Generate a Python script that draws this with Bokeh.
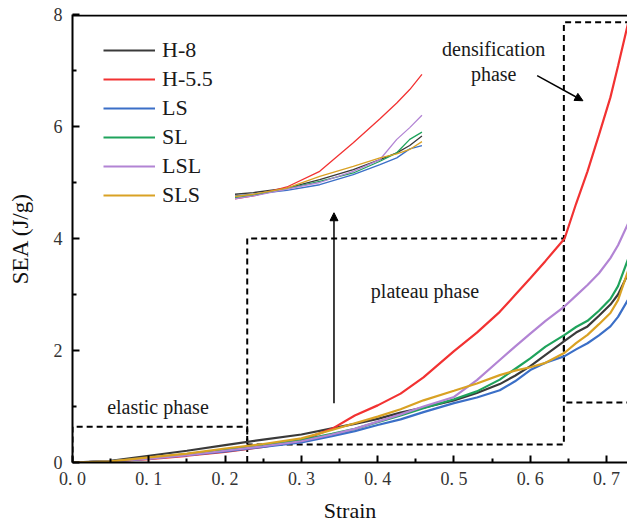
from bokeh.plotting import figure
from bokeh.models import (Range1d, FixedTicker, CustomJSTickFormatter, Legend, LegendItem,
                          Span, Arrow, NormalHead)
from bokeh.core.properties import value
from bokeh.embed import file_html
from bokeh.resources import INLINE

# ---------------- data ----------------
strain = [0, 0.05, 0.1, 0.15, 0.2, 0.25, 0.3, 0.34, 0.37, 0.4, 0.43, 0.46, 0.5, 0.53,
          0.56, 0.58, 0.6, 0.62, 0.645, 0.66, 0.675, 0.69, 0.705, 0.715, 0.73]
sea_h8 = [0, 0.03, 0.12, 0.21, 0.31, 0.41, 0.50, 0.61, 0.69, 0.78, 0.89, 0.98, 1.11, 1.24,
          1.40, 1.55, 1.72, 1.92, 2.17, 2.32, 2.43, 2.62, 2.82, 3.0, 3.42]
sea_h55 = [0, 0.02, 0.06, 0.12, 0.19, 0.28, 0.40, 0.60, 0.84, 1.02, 1.23, 1.52, 1.99, 2.32,
           2.69, 2.99, 3.29, 3.6, 4.0, 4.62, 5.2, 5.85, 6.52, 7.08, 7.95]
sea_ls = [0, 0.02, 0.07, 0.13, 0.2, 0.28, 0.36, 0.47, 0.56, 0.67, 0.77, 0.9, 1.06, 1.16,
          1.29, 1.45, 1.65, 1.78, 1.9, 2.02, 2.13, 2.27, 2.43, 2.6, 2.95]
sea_sl = [0, 0.02, 0.08, 0.15, 0.23, 0.31, 0.40, 0.51, 0.60, 0.72, 0.84, 0.97, 1.13, 1.27,
          1.48, 1.67, 1.86, 2.07, 2.28, 2.42, 2.53, 2.71, 2.92, 3.15, 3.7]
sea_lsl = [0, 0.02, 0.07, 0.13, 0.21, 0.29, 0.38, 0.50, 0.60, 0.73, 0.86, 1.0, 1.17, 1.47,
           1.83, 2.07, 2.3, 2.53, 2.79, 2.98, 3.17, 3.38, 3.65, 3.88, 4.32]
sea_sls = [0, 0.02, 0.09, 0.16, 0.25, 0.33, 0.43, 0.58, 0.70, 0.82, 0.95, 1.11, 1.28, 1.41,
           1.56, 1.64, 1.70, 1.78, 1.96, 2.13, 2.28, 2.47, 2.67, 2.9, 3.5]

# small inset copy of the curves
inset_strain = [0.213, 0.237, 0.281, 0.324, 0.368, 0.403, 0.425, 0.442, 0.458]
inset_h8 = [4.79, 4.82, 4.90, 5.05, 5.23, 5.41, 5.53, 5.66, 5.83]
inset_h55 = [4.71, 4.76, 4.92, 5.2, 5.71, 6.14, 6.42, 6.66, 6.93]
inset_ls = [4.76, 4.79, 4.86, 4.96, 5.14, 5.32, 5.44, 5.6, 5.66]
inset_sl = [4.73, 4.77, 4.89, 5.02, 5.17, 5.38, 5.53, 5.77, 5.9]
inset_lsl = [4.71, 4.76, 4.88, 5.0, 5.2, 5.41, 5.77, 5.98, 6.2]
inset_sls = [4.75, 4.79, 4.90, 5.11, 5.29, 5.44, 5.51, 5.59, 5.73]

series_names = ["H-8", "H-5.5", "LS", "SL", "LSL", "SLS"]
series_colors = ["#3a3a3a", "#f23232", "#3b6fc7", "#1fa35c", "#b284d4", "#d9a224"]

x_ticks = [0, 0.1, 0.2, 0.3, 0.4, 0.5, 0.6, 0.7]
x_minor = [0.05, 0.15, 0.25, 0.35, 0.45, 0.55, 0.65]
y_ticks = [0, 2, 4, 6, 8]
y_minor = [1, 3, 5, 7]

# phase boxes (dashed) and annotations
box_elastic_x = [0, 0, 0.229, 0.229]
box_elastic_y = [0, 0.64, 0.64, 0]
box_plateau_x = [0.229, 0.229, 0.644, 0.644, 0.229]
box_plateau_y = [0.32, 4.0, 4.0, 0.32, 0.32]
box_dens_x = [0.76, 0.644, 0.644, 0.76]
box_dens_y = [1.07, 1.07, 7.86, 7.86]

label_texts = ["elastic phase", "plateau phase", "densification", "phase"]
label_x = [0.112, 0.462, 0.552, 0.552]
label_y = [1.0, 3.06, 7.38, 6.93]

SERIF = "Liberation Serif"

p = figure(width=627, height=525, output_backend="svg", toolbar_location=None,
           x_range=Range1d(0, 0.7274), y_range=Range1d(0, 8),
           min_border_left=72, min_border_right=0, min_border_top=14, min_border_bottom=62)
p.outline_line_color = None
p.grid.visible = False
p.background_fill_color = "white"

main = [sea_h8, sea_h55, sea_ls, sea_sl, sea_lsl, sea_sls]
inset = [inset_h8, inset_h55, inset_ls, inset_sl, inset_lsl, inset_sls]

# dashed boxes
for bx, by in [(box_elastic_x, box_elastic_y), (box_plateau_x, box_plateau_y), (box_dens_x, box_dens_y)]:
    p.line(bx, by, line_color="black", line_width=2, line_dash="6 4")

renderers = []
for vals, col in zip(main, series_colors):
    renderers.append(p.line(strain, vals, line_color=col, line_width=2.2))
for vals, col in zip(inset, series_colors):
    p.line(inset_strain, vals, line_color=col, line_width=1.3)

p.text(x=label_x, y=label_y, text=label_texts, text_font=value(SERIF),
       text_font_size=value("20px"), text_align="center", text_baseline="middle",
       text_color="#1a1a1a")

p.add_layout(Arrow(end=NormalHead(size=8, fill_color="black", line_color="black"),
                   x_start=0.3427, y_start=1.06, x_end=0.3427, y_end=4.46,
                   line_color="black", line_width=1.5))
p.add_layout(Arrow(end=NormalHead(size=8, fill_color="black", line_color="black"),
                   x_start=0.609, y_start=6.91, x_end=0.669, y_end=6.46,
                   line_color="black", line_width=1.5))

# top border line of the frame
p.add_layout(Span(location=7.982, dimension="width", line_color="black", line_width=2))

legend = Legend(items=[LegendItem(label=n, renderers=[r]) for n, r in zip(series_names, renderers)],
                location=(31, 254), glyph_width=52, glyph_height=20, label_height=20,
                spacing=3, label_standoff=7, padding=0, margin=0,
                border_line_color=None, background_fill_alpha=0,
                label_text_font=SERIF, label_text_font_size="22px", label_text_color="#1a1a1a")
p.add_layout(legend)

# axes
xa = p.xaxis[0]
xa.ticker = FixedTicker(ticks=x_ticks, minor_ticks=x_minor)
xa.formatter = CustomJSTickFormatter(code="return tick.toFixed(1).replace('.', '. ');")
ya = p.yaxis[0]
ya.ticker = FixedTicker(ticks=y_ticks, minor_ticks=y_minor)
for ax in (xa, ya):
    ax.axis_line_width = 2
    ax.axis_line_color = "black"
    ax.major_tick_in = 7
    ax.major_tick_out = 0
    ax.minor_tick_in = 4
    ax.minor_tick_out = 0
    ax.major_tick_line_width = 2
    ax.minor_tick_line_width = 2
    ax.major_label_text_font = SERIF
    ax.major_label_text_font_size = "18px"
    ax.major_label_text_color = "#333333"
    ax.axis_label_text_font = SERIF
    ax.axis_label_text_font_style = "normal"
    ax.axis_label_text_color = "#111111"
xa.axis_label = "Strain"
xa.axis_label_text_font_size = "22px"
xa.major_label_standoff = 6
xa.axis_label_standoff = 6
ya.axis_label = "SEA (J/g)"
ya.axis_label_text_font_size = "23px"
ya.major_label_standoff = 10
ya.axis_label_standoff = 18

open("out.html", "w").write(file_html(p, INLINE))
